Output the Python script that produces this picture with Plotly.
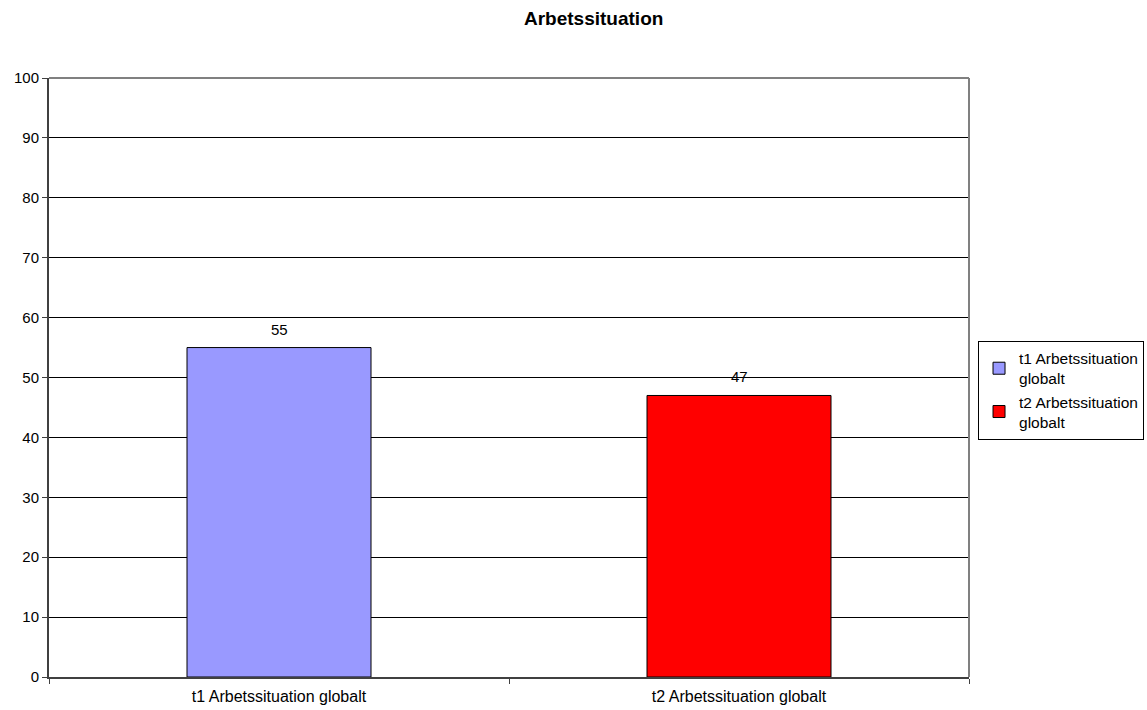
import plotly.graph_objects as go

categories = ["t1 Arbetssituation globalt", "t2 Arbetssituation globalt"]
series_names = ["t1 Arbetssituation<br>globalt", "t2 Arbetssituation<br>globalt"]
values = [55, 47]
colors = ["#9999FF", "#FF0000"]
y_ticks = [0, 10, 20, 30, 40, 50, 60, 70, 80, 90, 100]

FONT = "Liberation Sans, Arial, sans-serif"

fig = go.Figure()
for cat, name, val, col in zip(categories, series_names, values, colors):
    fig.add_trace(go.Bar(
        x=[cat], y=[val], name=name,
        marker=dict(color=col, line=dict(color="#000000", width=1)),
        width=0.4,
    ))

annotations = [dict(
    text="<b>Arbetssituation</b>", x=0.592, xref="paper", y=1.0, yref="paper",
    yanchor="bottom", yshift=47, showarrow=False,
    font=dict(family=FONT, size=19, color="#000000"),
)]
for cat, val in zip(categories, values):
    annotations.append(dict(
        text=str(val), x=cat, y=val, xref="x", yref="y",
        yanchor="bottom", yshift=8, showarrow=False,
        font=dict(family=FONT, size=15, color="#000000"),
    ))

fig.update_layout(
    width=1147, height=710,
    margin=dict(l=49, r=178, t=78, b=33, autoexpand=False),
    paper_bgcolor="white", plot_bgcolor="white",
    barmode="overlay",
    font=dict(family=FONT, size=15, color="#000000"),
    showlegend=True,
    legend=dict(
        x=1.0098, xanchor="left", y=0.479, yanchor="middle",
        bordercolor="#000000", borderwidth=1,
        font=dict(family=FONT, size=15.5, color="#000000"),
        itemwidth=30, tracegroupgap=0,
        bgcolor="white",
    ),
    annotations=annotations,
)

fig.update_xaxes(
    type="category", tickson="boundaries",
    ticks="outside", ticklen=5, tickcolor="#404040",
    showline=True, linecolor="#404040", linewidth=2,
    showgrid=False, mirror=False,
    ticklabelstandoff=4,
    tickfont=dict(family=FONT, size=16, color="#000000"),
)
fig.update_yaxes(
    range=[0, 100], tickvals=y_ticks,
    ticks="outside", ticklen=5, tickcolor="#404040",
    showline=True, linecolor="#404040", linewidth=2,
    showgrid=True, gridcolor="#000000", gridwidth=1,
    zeroline=False,
    tickfont=dict(family=FONT, size=15, color="#000000"),
)

# gray border on top and right of plot area
fig.add_shape(type="line", xref="paper", yref="paper", x0=0, x1=1, y0=1, y1=1,
              line=dict(color="#808080", width=2))
fig.add_shape(type="line", xref="paper", yref="paper", x0=1, x1=1, y0=0, y1=1,
              line=dict(color="#808080", width=2))

fig.write_html("out.html")
